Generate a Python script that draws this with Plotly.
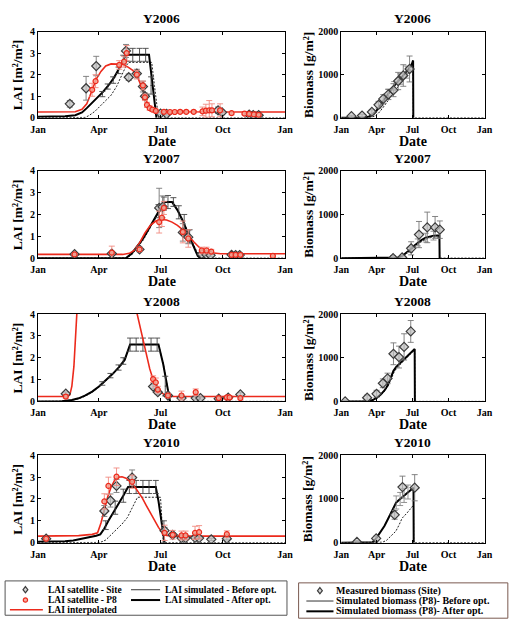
import plotly.graph_objects as go

W, H = 511, 634
FONT = "Liberation Serif"
RED = "#ec2a1c"

def px(x):
    return x / W

def py(y):
    return 1 - y / H

# ---------------- axis labels ----------------
MONTH_DOY = [0, 90, 181, 273, 365]
MONTH_LBL = ["Jan", "Apr", "Jul", "Oct", "Jan"]
YEARS = ["Y2006", "Y2007", "Y2008", "Y2010"]
LAI_TICKS = [0, 1, 2, 3, 4]
BIO_TICKS = [0, 1000, 2000]

# ---------------- LAI 2006 ----------------
site06_doy = [47, 71, 86, 130, 134, 146, 155, 158, 181, 190, 266, 272, 312, 318, 326]
site06_lai = [0.65, 1.37, 2.4, 3.1, 1.88, 2.05, 1.45, 1.0, 0.2, 0.18, 0.35, 0.25, 0.15, 0.13, 0.12]
site06_err = [0.15, 0.55, 0.45, 0.3, 0.15, 0.2, 0.25, 0.15, 0.05, 0.05, 0.15, 0.1, 0.05, 0.05, 0.05]
p806_doy = [80, 85, 120, 127, 131, 146, 155, 158, 161, 165, 169, 174, 186, 195, 202, 210, 219, 230, 243, 248, 253, 257, 269, 286, 305, 312, 319, 326]
p806_lai = [1.3, 1.7, 2.45, 2.6, 3.0, 2.0, 1.5, 0.95, 0.6, 0.45, 0.38, 0.32, 0.28, 0.27, 0.27, 0.28, 0.28, 0.28, 0.3, 0.33, 0.35, 0.35, 0.35, 0.22, 0.2, 0.18, 0.16, 0.14]
p806_err = [0.3, 0.3, 0.2, 0.25, 0.35, 0.2, 0.2, 0.15, 0.12, 0.1, 0.08, 0.08, 0.06, 0.06, 0.06, 0.06, 0.06, 0.06, 0.2, 0.3, 0.45, 0.3, 0.3, 0.08, 0.06, 0.05, 0.05, 0.05]
int06_doy = [0, 55, 65, 72, 79, 86, 93, 100, 108, 116, 125, 133, 140, 147, 152, 156, 160, 164, 170, 178, 365]
int06_lai = [0.27, 0.28, 0.4, 0.65, 1.2, 1.8, 2.15, 2.4, 2.5, 2.5, 2.48, 2.35, 2.2, 1.9, 1.55, 1.2, 0.8, 0.5, 0.35, 0.28, 0.27]
aft06_doy = [0, 40, 55, 65, 72, 80, 88, 96, 104, 112, 120, 126, 130, 164, 168, 172, 175]
aft06_lai = [0.05, 0.07, 0.12, 0.25, 0.45, 0.7, 0.95, 1.2, 1.5, 1.85, 2.3, 2.7, 2.92, 2.92, 1.8, 0.6, 0.0]
bef06_doy = [0, 70, 76, 84, 92, 100, 108, 116, 124, 130, 134, 168, 172, 178, 365]
bef06_lai = [0.0, 0.02, 0.12, 0.3, 0.55, 0.8, 1.05, 1.45, 2.0, 2.4, 2.57, 2.57, 1.5, 0.0, 0.0]
bar06_doy = [95, 103, 111, 119, 126, 131, 140, 150, 159, 167]
bar06_lai = [1.1, 1.45, 1.75, 2.2, 2.7, 2.92, 2.92, 2.92, 2.92, 1.5]
bar06_err = [0.12, 0.12, 0.15, 0.15, 0.2, 0.3, 0.3, 0.3, 0.3, 0.4]

# ---------------- LAI 2007 ----------------
site07_doy = [54, 109, 150, 179, 184, 214, 222, 242, 249, 255, 286, 292, 298]
site07_lai = [0.18, 0.21, 0.4, 2.3, 2.35, 1.18, 0.96, 0.18, 0.15, 0.13, 0.15, 0.14, 0.14]
site07_err = [0.05, 0.05, 0.1, 0.9, 0.5, 0.4, 0.3, 0.05, 0.05, 0.05, 0.05, 0.05, 0.05]
p807_doy = [54, 109, 150, 179, 183, 186, 214, 222, 242, 249, 256, 286, 292, 299, 347]
p807_lai = [0.17, 0.25, 0.4, 1.65, 1.85, 2.3, 1.2, 0.9, 0.35, 0.35, 0.3, 0.15, 0.15, 0.15, 0.1]
p807_err = [0.05, 0.3, 0.1, 0.5, 0.4, 0.3, 0.5, 0.4, 0.15, 0.15, 0.1, 0.05, 0.05, 0.05, 0.05]
int07_doy = [0, 125, 135, 142, 150, 158, 166, 174, 182, 190, 198, 206, 214, 222, 230, 238, 246, 256, 270, 365]
int07_lai = [0.17, 0.17, 0.22, 0.35, 0.7, 1.15, 1.5, 1.7, 1.77, 1.75, 1.65, 1.5, 1.3, 1.05, 0.75, 0.5, 0.35, 0.25, 0.2, 0.2]
aft07_doy = [0, 130, 138, 146, 154, 162, 170, 178, 184, 188, 198, 206, 214, 222, 230, 236, 240]
aft07_lai = [0.0, 0.01, 0.2, 0.5, 0.85, 1.25, 1.7, 2.15, 2.45, 2.57, 2.57, 2.2, 1.7, 1.1, 0.5, 0.1, 0.0]
bef07_doy = [0, 132, 140, 148, 156, 164, 172, 180, 186, 190, 200, 208, 216, 224, 232, 238, 242, 365]
bef07_lai = [0.0, 0.01, 0.2, 0.5, 0.85, 1.3, 1.75, 2.2, 2.5, 2.57, 2.57, 2.1, 1.6, 1.0, 0.45, 0.08, 0.0, 0.0]
bar07_doy = [178, 186, 192, 200, 208, 216, 224]
bar07_lai = [2.15, 2.5, 2.57, 2.57, 2.1, 1.6, 1.0]
bar07_err = [0.3, 0.3, 0.3, 0.2, 0.3, 0.4, 0.3]

# ---------------- LAI 2008 ----------------
site08_doy = [41, 170, 177, 192, 212, 233, 240, 267, 281, 299]
site08_lai = [0.35, 0.68, 0.42, 0.27, 0.15, 0.15, 0.15, 0.12, 0.17, 0.32]
site08_err = [0.08, 0.1, 0.1, 0.08, 0.05, 0.05, 0.05, 0.05, 0.05, 0.08]
p808_doy = [41, 170, 174, 177, 192, 212, 233, 267, 279, 283, 299]
p808_lai = [0.22, 1.02, 0.87, 0.54, 0.27, 0.27, 0.42, 0.15, 0.18, 0.18, 0.15]
p808_err = [0.08, 0.15, 0.2, 0.15, 0.1, 0.2, 0.15, 0.08, 0.08, 0.08, 0.08]
int08_doy = [0, 44, 47, 50, 53, 56, 60, 70, 90, 110, 130, 140, 145, 150, 155, 160, 165, 170, 175, 180, 186, 192, 200, 365]
int08_lai = [0.22, 0.22, 0.3, 0.7, 1.6, 3.2, 5.5, 9.0, 12.0, 11.0, 7.5, 5.2, 4.2, 3.5, 2.8, 2.1, 1.5, 1.0, 0.7, 0.45, 0.32, 0.25, 0.22, 0.22]
aft08_doy = [0, 35, 50, 60, 70, 80, 90, 100, 110, 120, 128, 136, 178, 185, 190, 195]
aft08_lai = [0.0, 0.01, 0.06, 0.14, 0.27, 0.45, 0.68, 0.95, 1.25, 1.58, 1.9, 2.6, 2.6, 1.7, 0.9, 0.0]
bef08_doy = [0, 35, 50, 60, 70, 80, 90, 100, 110, 120, 128, 136, 178, 185, 190, 195, 365]
bef08_lai = [0.0, 0.01, 0.05, 0.12, 0.24, 0.42, 0.65, 0.92, 1.22, 1.55, 1.88, 2.6, 2.6, 1.75, 0.95, 0.0, 0.0]
bar08_doy = [95, 107, 119, 126, 136, 145, 155, 167, 176, 188]
bar08_lai = [0.82, 1.18, 1.55, 1.85, 2.6, 2.6, 2.6, 2.6, 2.6, 0.7]
bar08_err = [0.08, 0.1, 0.12, 0.15, 0.3, 0.3, 0.3, 0.3, 0.3, 0.45]

# ---------------- LAI 2010 ----------------
site10_doy = [12, 98, 107, 116, 139, 187, 199, 212, 218, 232, 238, 256, 279]
site10_lai = [0.18, 1.45, 1.93, 2.6, 2.98, 0.55, 0.36, 0.21, 0.21, 0.22, 0.21, 0.15, 0.18]
site10_err = [0.05, 0.25, 0.3, 0.3, 0.35, 0.15, 0.1, 0.05, 0.05, 0.05, 0.05, 0.05, 0.05]
p810_doy = [12, 98, 104, 116, 139, 187, 199, 212, 218, 232, 238, 279]
p810_lai = [0.18, 1.89, 2.6, 3.02, 2.79, 0.45, 0.36, 0.33, 0.33, 0.45, 0.48, 0.39]
p810_err = [0.05, 0.35, 0.4, 0.4, 0.3, 0.35, 0.2, 0.2, 0.2, 0.3, 0.3, 0.15]
int10_doy = [0, 60, 80, 88, 93, 98, 103, 108, 113, 118, 124, 130, 136, 142, 148, 154, 160, 166, 172, 178, 184, 190, 200, 365]
int10_lai = [0.3, 0.32, 0.38, 0.45, 0.9, 1.5, 2.1, 2.55, 2.85, 3.0, 3.02, 2.95, 2.8, 2.6, 2.35, 2.05, 1.7, 1.35, 1.0, 0.7, 0.45, 0.33, 0.3, 0.3]
aft10_doy = [0, 40, 52, 64, 76, 86, 92, 98, 104, 112, 119, 126, 133, 174, 178, 182, 185, 187]
aft10_lai = [0.04, 0.06, 0.1, 0.17, 0.25, 0.32, 0.38, 0.65, 1.0, 1.4, 1.75, 2.15, 2.55, 2.55, 1.9, 1.1, 0.5, 0.0]
bef10_doy = [0, 92, 100, 108, 116, 124, 132, 140, 147, 181, 183, 185, 365]
bef10_lai = [0.0, 0.01, 0.12, 0.35, 0.6, 0.85, 1.15, 1.65, 2.08, 2.08, 1.0, 0.0, 0.0]
bar10_doy = [100, 114, 126, 135, 145, 155, 164, 174, 186]
bar10_lai = [0.8, 1.6, 2.15, 2.55, 2.55, 2.55, 2.55, 2.55, 0.5]
bar10_err = [0.2, 0.3, 0.3, 0.3, 0.3, 0.3, 0.3, 0.3, 0.5]

# ---------------- Biomass ----------------
mb06_doy = [26, 53, 78, 95, 107, 120, 133, 145, 158, 174]
mb06_val = [38, 53, 136, 302, 438, 543, 641, 853, 981, 1132]
mb06_err = [20, 30, 50, 80, 100, 120, 150, 200, 250, 300]
ab06_doy = [0, 60, 70, 80, 90, 100, 110, 120, 130, 140, 150, 160, 170, 180, 183, 183.5]
ab06_val = [0, 5, 25, 80, 170, 300, 450, 580, 690, 800, 900, 1000, 1110, 1250, 1330, 0]
bb06_doy = [0, 75, 85, 95, 105, 115, 125, 135, 145, 155, 165, 175, 183, 183.5, 365]
bb06_val = [0, 5, 40, 110, 220, 350, 480, 600, 730, 850, 960, 1080, 1200, 0, 0]
bbar06_doy = [120, 135, 150, 165]
bbar06_val = [580, 740, 900, 1060]
bbar06_err = [80, 100, 120, 140]

mb07_doy = [132, 155, 178, 198, 219, 239, 251]
mb07_val = [0, 15, 225, 540, 704, 704, 652]
mb07_err = [60, 40, 150, 300, 350, 250, 200]
ab07_doy = [0, 135, 145, 155, 165, 175, 185, 195, 205, 215, 225, 235, 245, 250, 250.5]
ab07_val = [0, 2, 15, 50, 110, 190, 280, 360, 420, 470, 500, 515, 520, 520, 0]
bb07_doy = [0, 138, 148, 158, 168, 178, 188, 198, 208, 218, 228, 238, 248, 250, 250.5, 365]
bb07_val = [0, 2, 15, 50, 110, 185, 265, 340, 400, 440, 470, 480, 485, 485, 0, 0]
bbar07_doy = [175, 195, 215, 235]
bbar07_val = [190, 360, 470, 515]
bbar07_err = [60, 80, 100, 100]

mb08_doy = [10, 66, 90, 106, 118, 133, 147, 160, 177]
mb08_val = [0, 83, 173, 414, 526, 1090, 1015, 1248, 1602]
mb08_err = [30, 60, 80, 100, 120, 250, 250, 300, 250]
ab08_doy = [0, 70, 80, 90, 100, 110, 118, 125, 133, 140, 150, 160, 170, 180, 187, 187.5]
ab08_val = [0, 5, 30, 80, 150, 250, 360, 520, 700, 790, 880, 960, 1060, 1160, 1200, 0]
bb08_doy = [0, 72, 82, 92, 102, 112, 120, 127, 135, 142, 152, 162, 172, 182, 187, 187.5, 365]
bb08_val = [0, 5, 30, 80, 150, 250, 360, 510, 680, 770, 860, 940, 1040, 1140, 1180, 0, 0]

mb10_doy = [40, 89, 136, 156, 187]
mb10_val = [15, 97, 637, 1273, 1258]
mb10_err = [30, 50, 100, 250, 300]
ab10_doy = [0, 80, 89, 100, 110, 120, 130, 140, 150, 160, 170, 184, 184.5]
ab10_val = [0, 10, 97, 230, 380, 560, 760, 920, 1000, 1080, 1160, 1260, 0]
bb10_doy = [0, 105, 115, 125, 139, 147, 155, 167, 175, 184, 184.5, 365]
bb10_val = [0, 10, 50, 140, 262, 400, 560, 674, 760, 860, 0, 0]
bbar10_doy = [140, 150, 160, 170]
bbar10_val = [920, 1000, 1080, 1160]
bbar10_err = [150, 150, 160, 160]

LAI_SETS = [
    (site06_doy, site06_lai, site06_err, p806_doy, p806_lai, p806_err, int06_doy, int06_lai,
     aft06_doy, aft06_lai, bef06_doy, bef06_lai, bar06_doy, bar06_lai, bar06_err),
    (site07_doy, site07_lai, site07_err, p807_doy, p807_lai, p807_err, int07_doy, int07_lai,
     aft07_doy, aft07_lai, bef07_doy, bef07_lai, bar07_doy, bar07_lai, bar07_err),
    (site08_doy, site08_lai, site08_err, p808_doy, p808_lai, p808_err, int08_doy, int08_lai,
     aft08_doy, aft08_lai, bef08_doy, bef08_lai, bar08_doy, bar08_lai, bar08_err),
    (site10_doy, site10_lai, site10_err, p810_doy, p810_lai, p810_err, int10_doy, int10_lai,
     aft10_doy, aft10_lai, bef10_doy, bef10_lai, bar10_doy, bar10_lai, bar10_err),
]
BIO_SETS = [
    (mb06_doy, mb06_val, mb06_err, ab06_doy, ab06_val, bb06_doy, bb06_val, bbar06_doy, bbar06_val, bbar06_err),
    (mb07_doy, mb07_val, mb07_err, ab07_doy, ab07_val, bb07_doy, bb07_val, bbar07_doy, bbar07_val, bbar07_err),
    (mb08_doy, mb08_val, mb08_err, ab08_doy, ab08_val, bb08_doy, bb08_val, [], [], []),
    (mb10_doy, mb10_val, mb10_err, ab10_doy, ab10_val, bb10_doy, bb10_val, bbar10_doy, bbar10_val, bbar10_err),
]

# ---------------- layout geometry (pixels) ----------------
ROWS = [(26, 114), (168, 257), (314, 403), (458, 547)]
COLS = [(31, 286), (344, 492)]

fig = go.Figure()

SITE_MARKER = dict(symbol="diamond", size=7, color="rgba(190,190,190,0.7)",
                   line=dict(color="#3c3c3c", width=1.2))
P8_MARKER = dict(symbol="circle", size=5, color="rgba(245,160,145,0.85)",
                 line=dict(color=RED, width=1.2))
BEFORE_LINE = dict(color="#222", width=1, dash="2px,1.5px")

def eb(arr, color, w=2):
    return dict(type="data", array=arr, visible=True, color=color, thickness=0.9, width=w)

def ax(n):
    return ("x" if n == 1 else f"x{n}"), ("y" if n == 1 else f"y{n}")

for r in range(4):
    # LAI panel
    n = 2 * r + 1
    xa, ya = ax(n)
    (sd, sl, se, pd, pl, pe, idd, il, ad, al, bd, bl, brd, brl, bre) = LAI_SETS[r]
    fig.add_trace(go.Scatter(x=bd, y=bl, mode="lines", xaxis=xa, yaxis=ya,
                             line=BEFORE_LINE, showlegend=False))
    fig.add_trace(go.Scatter(x=ad, y=al, mode="lines", xaxis=xa, yaxis=ya,
                             line=dict(color="black", width=2), showlegend=False))
    fig.add_trace(go.Scatter(x=brd, y=brl, mode="markers", xaxis=xa, yaxis=ya,
                             marker=dict(size=1, color="black"),
                             error_y=eb(bre, "#444", 3), showlegend=False))
    fig.add_trace(go.Scatter(x=idd, y=il, mode="lines", xaxis=xa, yaxis=ya,
                             line=dict(color=RED, width=1.6), showlegend=False))
    fig.add_trace(go.Scatter(x=sd, y=sl, mode="markers", xaxis=xa, yaxis=ya,
                             marker=SITE_MARKER, error_y=eb(se, "#777", 3), showlegend=False))
    fig.add_trace(go.Scatter(x=pd, y=pl, mode="markers", xaxis=xa, yaxis=ya,
                             marker=P8_MARKER, error_y=eb(pe, "#f08a80", 3), showlegend=False))
    # Biomass panel
    n = 2 * r + 2
    xa, ya = ax(n)
    (md, mv, me, abd, abv, bbd, bbv, qd, qv, qe) = BIO_SETS[r]
    fig.add_trace(go.Scatter(x=bbd, y=bbv, mode="lines", xaxis=xa, yaxis=ya,
                             line=BEFORE_LINE, showlegend=False))
    fig.add_trace(go.Scatter(x=abd, y=abv, mode="lines", xaxis=xa, yaxis=ya,
                             line=dict(color="black", width=2), showlegend=False))
    if qd:
        fig.add_trace(go.Scatter(x=qd, y=qv, mode="markers", xaxis=xa, yaxis=ya,
                                 marker=dict(size=1, color="black"),
                                 error_y=eb(qe, "#888", 3), showlegend=False))
    fig.add_trace(go.Scatter(x=md, y=mv, mode="markers", xaxis=xa, yaxis=ya,
                             marker=SITE_MARKER, error_y=eb(me, "#777", 3), showlegend=False))

TICKFONT = dict(family=FONT, size=10, color="black", weight="bold")
layout = dict(width=W, height=H, margin=dict(l=0, r=0, t=0, b=0),
              paper_bgcolor="white", plot_bgcolor="white", showlegend=False,
              font=dict(family=FONT, size=10, color="black", weight="bold"))
annotations = []
shapes = []

for r, (top, bot) in enumerate(ROWS):
    for c, (left, right) in enumerate(COLS):
        n = 2 * r + c + 1
        sfx = "" if n == 1 else str(n)
        common = dict(showline=True, linecolor="black", linewidth=1, mirror="ticks",
                      ticks="inside", ticklen=3, tickwidth=1, tickcolor="black",
                      showgrid=False, zeroline=False, tickfont=TICKFONT, fixedrange=True)
        layout["xaxis" + sfx] = dict(domain=[px(left), px(right)], range=[0, 365],
                                     tickvals=MONTH_DOY, ticktext=MONTH_LBL,
                                     ticklabelstandoff=2,
                                     anchor="y" + sfx, **common)
        if c == 0:
            yt, yr = LAI_TICKS, [0, 4]
        else:
            yt, yr = BIO_TICKS, [0, 2000]
        layout["yaxis" + sfx] = dict(domain=[py(bot), py(top)], range=yr, tickvals=yt,
                                     anchor="x" + sfx, **common)
        cx = (left + right) / 2
        annotations.append(dict(text=YEARS[r], x=px(cx), y=py(top - 13), xref="paper", yref="paper",
                                showarrow=False, xanchor="center", yanchor="middle",
                                font=dict(family=FONT, size=13.5, color="black", weight="bold")))
        annotations.append(dict(text="Date", x=px(cx), y=py(bot + 24), xref="paper", yref="paper",
                                showarrow=False, xanchor="center", yanchor="middle",
                                font=dict(family=FONT, size=14, color="black", weight="bold")))
        ytitle = "LAI [m²/m²]" if c == 0 else "Biomass [g/m²]"
        ytx = 10 if c == 0 else 310
        annotations.append(dict(text=ytitle, x=px(ytx), y=py((top + bot) / 2), xref="paper", yref="paper",
                                showarrow=False, xanchor="center", yanchor="middle", textangle=-90,
                                font=dict(family=FONT, size=13.5, color="black", weight="bold")))

# ---------------- legends (drawn) ----------------
def rect(x0, y0, x1, y1, color):
    return dict(type="rect", xref="paper", yref="paper", x0=px(x0), x1=px(x1), y0=py(y1), y1=py(y0),
                line=dict(color=color, width=1), fillcolor="rgba(0,0,0,0)", layer="above")

def seg(x0, x1, y, color, w, dash="solid"):
    return dict(type="line", xref="paper", yref="paper", x0=px(x0), x1=px(x1), y0=py(y), y1=py(y),
                line=dict(color=color, width=w, dash=dash))

def diamond(x, y):
    pts = [(x, y - 3.2), (x + 2.5, y), (x, y + 3.2), (x - 2.5, y)]
    path = "M " + " L ".join(f"{px(a):.5f},{py(b):.5f}" for a, b in pts) + " Z"
    return dict(type="path", xref="paper", yref="paper", path=path,
                line=dict(color="#3c3c3c", width=1.2), fillcolor="rgba(200,200,200,0.8)")

def circle(x, y, rr):
    return dict(type="circle", xref="paper", yref="paper", x0=px(x - rr), x1=px(x + rr),
                y0=py(y + rr), y1=py(y - rr), line=dict(color=RED, width=1.2),
                fillcolor="rgba(245,160,145,0.85)")

def label(text, x, y, size):
    return dict(text=text, x=px(x), y=py(y), xref="paper", yref="paper", showarrow=False,
                xanchor="left", yanchor="middle",
                font=dict(family=FONT, size=size, color="black", weight="bold"))

shapes.append(rect(-3, 586, 288, 621, "#555"))
LROW = [595, 605.5, 615.5]
shapes.append(diamond(18, LROW[0]))
shapes.append(circle(18, LROW[1], 2.2))
shapes.append(seg(127, 157, LROW[0], "#333", 1))
shapes.append(seg(127, 157, LROW[1], "black", 2))
shapes.append(seg(2, 36, LROW[2], RED, 1.5))
annotations.append(label("LAI satellite - Site", 39, LROW[0], 9.5))
annotations.append(label("LAI satellite - P8", 39, LROW[1], 9.5))
annotations.append(label("LAI interpolated", 39, LROW[2], 9.5))
annotations.append(label("LAI simulated - Before opt.", 160, LROW[0], 9.5))
annotations.append(label("LAI simulated - After opt.", 160, LROW[1], 9.5))

shapes.append(rect(300, 588, 516, 624, "#7a5a50"))
RROW = [596, 606.5, 617]
shapes.append(diamond(322, RROW[0]))
shapes.append(seg(308, 336, RROW[1], "#333", 1))
shapes.append(seg(308, 336, RROW[2], "black", 2))
annotations.append(label("Measured biomass (Site)", 337, RROW[0], 10))
annotations.append(label("Simulated biomass (P8)- Before opt.", 337, RROW[1], 10))
annotations.append(label("Simulated biomass (P8)- After opt.", 337, RROW[2], 10))

layout["annotations"] = annotations
layout["shapes"] = shapes
fig.update_layout(**layout)
fig.write_html("out.html")
